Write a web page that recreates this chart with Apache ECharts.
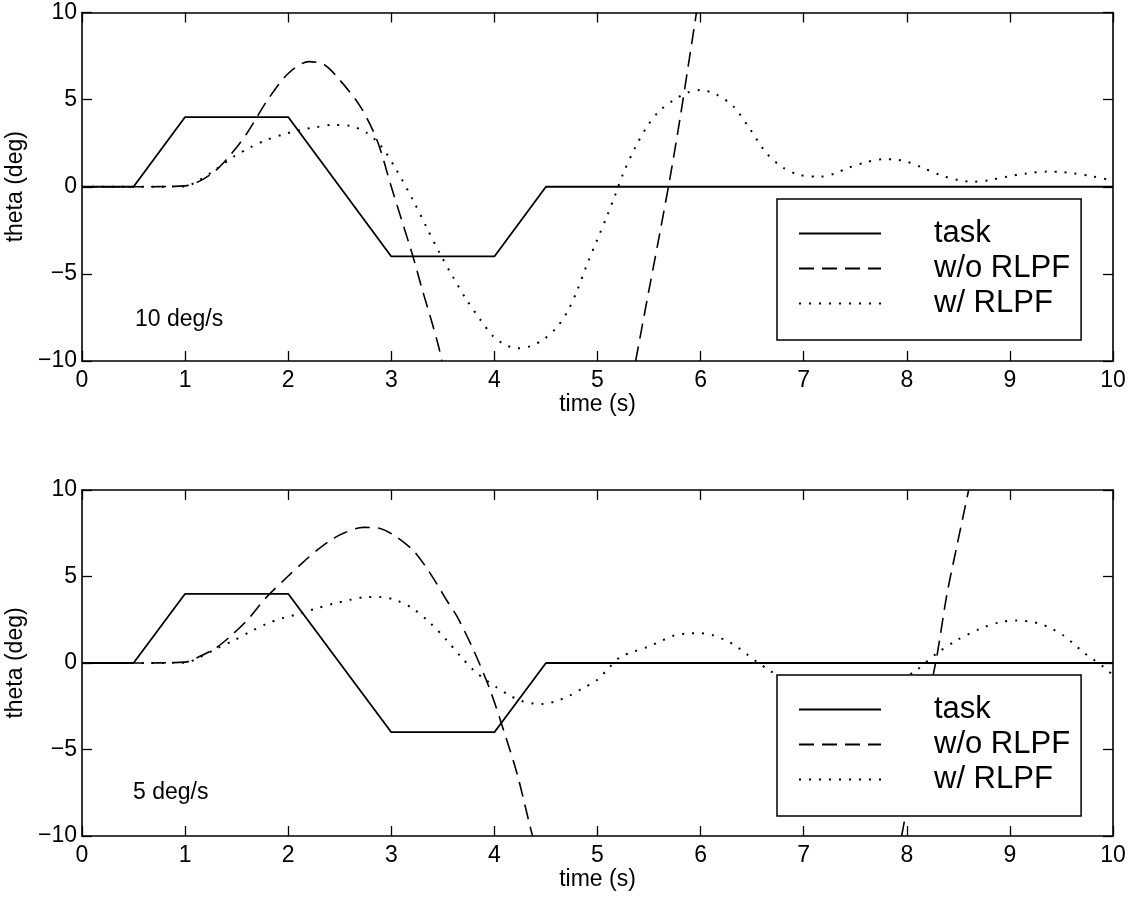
<!DOCTYPE html>
<html>
<head>
<meta charset="utf-8">
<script src="https://cdn.jsdelivr.net/npm/echarts@6/dist/echarts.min.js"></script>
<style>html,body{margin:0;padding:0;background:#fff;}#c{width:1130px;height:900px;}</style>
</head>
<body>
<div id="c"></div>
<script>
// ---- data ----
const xTicks = [0,1,2,3,4,5,6,7,8,9,10];
const yTicks = [-10,-5,0,5,10];
const seriesNames = ['task', 'w/o RLPF', 'w/ RLPF'];
const panelLabels = ['10 deg/s', '5 deg/s'];

const taskT = [0, 0.5, 1, 2, 3, 4, 4.5, 10];
const taskV = [0, 0, 4, 4, -4, -4, 0, 0];

// panel 1 (10 deg/s)
const p1DashT1 = [0, 0.5, 1.0, 1.15, 1.3, 1.45, 1.6, 1.8, 2.0, 2.2, 2.35, 2.5, 2.7, 2.86, 3.0, 3.1, 3.21, 3.3, 3.4, 3.46, 3.49];
const p1DashV1 = [0, 0, 0.05, 0.35, 0.95, 1.9, 3.07, 4.98, 6.5, 7.18, 7.0, 6.13, 4.6, 2.7, 0.0, -1.9, -4.0, -5.9, -7.9, -9.2, -10];
const p1DashT2 = [5.37, 5.5, 5.6, 5.7, 5.8, 5.9, 5.96];
const p1DashV2 = [-10, -5.9, -2.8, 0.4, 3.9, 7.7, 10];
const p1DotT = [0, 0.5, 1.0, 1.14, 1.3, 1.47, 1.63, 1.79, 1.95, 2.11, 2.27, 2.44, 2.6, 2.76, 2.9, 3.05, 3.21, 3.34, 3.47, 3.6, 3.73, 3.86, 3.99, 4.1, 4.22, 4.35, 4.47, 4.6, 4.7, 4.8, 4.89, 5.0, 5.09, 5.17, 5.25, 5.37, 5.48, 5.6, 5.74, 5.87, 6.0, 6.15, 6.32, 6.48, 6.64, 6.8, 6.96, 7.16, 7.3, 7.42, 7.6, 7.77, 7.9, 8.0, 8.15, 8.32, 8.5, 8.65, 8.8, 8.97, 9.15, 9.36, 9.5, 9.61, 9.8, 10];
const p1DotV = [0, 0, 0.02, 0.39, 1.0, 1.73, 2.25, 2.69, 3.0, 3.26, 3.42, 3.55, 3.5, 3.1, 2.35, 0.96, -0.76, -2.3, -3.82, -5.2, -6.49, -7.6, -8.6, -9.05, -9.27, -9.15, -8.79, -8.1, -7.26, -6.0, -4.58, -3.0, -1.72, -0.5, 0.77, 2.3, 3.45, 4.35, 4.98, 5.4, 5.55, 5.3, 4.6, 3.3, 1.92, 1.1, 0.68, 0.58, 0.75, 1.06, 1.4, 1.58, 1.55, 1.44, 1.1, 0.68, 0.38, 0.29, 0.38, 0.58, 0.75, 0.87, 0.85, 0.77, 0.6, 0.35];

// panel 2 (5 deg/s)
const p2DashT1 = [0, 0.5, 1.0, 1.15, 1.31, 1.45, 1.6, 1.79, 1.99, 2.14, 2.28, 2.4, 2.53, 2.73, 2.89, 3.05, 3.21, 3.33, 3.44, 3.54, 3.64, 3.8, 3.96, 4.09, 4.22, 4.34, 4.37];
const p2DashV1 = [0, 0, 0.05, 0.4, 0.92, 1.6, 2.46, 3.81, 4.97, 5.8, 6.52, 7.05, 7.49, 7.84, 7.78, 7.29, 6.52, 5.6, 4.59, 3.6, 2.66, 0.72, -1.59, -3.9, -6.4, -9.3, -10];
const p2DashT2 = [7.95, 8.1, 8.2, 8.29, 8.39, 8.48, 8.6];
const p2DashV2 = [-10, -5.2, -2.3, 0.34, 4.0, 6.6, 10];
const p2DotT = [0, 0.5, 1.0, 1.14, 1.3, 1.47, 1.63, 1.79, 1.95, 2.11, 2.27, 2.44, 2.6, 2.76, 2.89, 3.05, 3.21, 3.38, 3.54, 3.67, 3.8, 3.91, 4.02, 4.14, 4.25, 4.36, 4.47, 4.6, 4.73, 4.86, 4.99, 5.1, 5.22, 5.35, 5.48, 5.61, 5.74, 5.87, 5.99, 6.12, 6.25, 6.35, 6.45, 6.55, 6.67, 6.8, 7.0, 7.2, 7.4, 7.6, 7.8, 7.95, 8.09, 8.29, 8.48, 8.71, 8.9, 9.06, 9.18, 9.29, 9.4, 9.52, 9.62, 9.71, 9.81, 9.91, 10];
const p2DotV = [0, 0, 0.02, 0.33, 0.82, 1.3, 1.8, 2.27, 2.6, 2.85, 3.15, 3.43, 3.65, 3.81, 3.81, 3.62, 3.14, 2.3, 1.3, 0.4, -0.43, -0.95, -1.4, -1.85, -2.17, -2.33, -2.37, -2.2, -1.88, -1.45, -1.01, -0.35, 0.34, 0.65, 0.92, 1.25, 1.59, 1.7, 1.73, 1.6, 1.3, 0.95, 0.5, 0.05, -0.43, -0.95, -1.55, -1.9, -2.0, -1.85, -1.45, -0.95, -0.43, 0.55, 1.3, 1.98, 2.35, 2.46, 2.4, 2.27, 2.0, 1.59, 1.1, 0.63, 0.2, -0.24, -0.7];

// ---- build ----
const zip = (t, v) => t.map((x, i) => [x, v[i]]);
const zip2 = (t1, v1, t2, v2) => zip(t1, v1).concat([[null, null]], zip(t2, v2));

const FONT = '"Liberation Sans", Arial, Helvetica, sans-serif';
const BLACK = '#000';
const FS = 23;
const minus = v => String(v).replace('-', '\u2212');

const grids = [
  {left: 82, right: 17, top: 12.5, height: 348.5, containLabel: false, outerBoundsMode: 'none'},
  {left: 82, right: 17, top: 490, height: 346, containLabel: false, outerBoundsMode: 'none'}
];

const xAxes = [], yAxes = [];
grids.forEach((g, gi) => {
  const tick = {show: true, inside: true, length: 10, lineStyle: {color: BLACK, width: 1.3}};
  const line = {show: true, onZero: false, lineStyle: {color: BLACK, width: 1.6}};
  xAxes.push({
    type: 'value', gridIndex: gi, min: 0, max: 10, interval: 1, position: 'bottom',
    axisLine: line, axisTick: tick, splitLine: {show: false},
    axisLabel: {color: BLACK, fontSize: FS, fontFamily: FONT, margin: 8, formatter: minus},
    name: 'time (s)', nameLocation: 'middle', nameGap: 32,
    nameTextStyle: {color: BLACK, fontSize: FS, fontFamily: FONT}
  });
  xAxes.push({
    type: 'value', gridIndex: gi, min: 0, max: 10, interval: 1, position: 'top',
    axisLine: line, axisTick: tick, splitLine: {show: false}, axisLabel: {show: false}
  });
  yAxes.push({
    type: 'value', gridIndex: gi, min: -10, max: 10, interval: 5, position: 'left',
    axisLine: line, axisTick: tick, splitLine: {show: false},
    axisLabel: {color: BLACK, fontSize: FS, fontFamily: FONT, margin: 5, formatter: minus},
    name: 'theta (deg)', nameLocation: 'middle', nameGap: 44,
    nameTextStyle: {color: BLACK, fontSize: FS, fontFamily: FONT}
  });
  yAxes.push({
    type: 'value', gridIndex: gi, min: -10, max: 10, interval: 5, position: 'right',
    axisLine: line, axisTick: tick, splitLine: {show: false}, axisLabel: {show: false}
  });
});

const styles = [
  {type: 'solid', width: 1.8},
  {type: [15, 8], width: 1.6},
  {type: [2, 8], width: 2}
];
const panelData = [
  [zip(taskT, taskV), zip2(p1DashT1, p1DashV1, p1DashT2, p1DashV2), zip(p1DotT, p1DotV)],
  [zip(taskT, taskV), zip2(p2DashT1, p2DashV1, p2DashT2, p2DashV2), zip(p2DotT, p2DotV)]
];

const series = [];
panelData.forEach((arr, gi) => {
  arr.forEach((d, si) => {
    series.push({
      name: seriesNames[si], type: 'line', xAxisIndex: gi * 2, yAxisIndex: gi * 2,
      data: d, symbol: 'none', showSymbol: false, smooth: si === 0 ? false : 0.3,
      connectNulls: false, clip: true, animation: false,
      lineStyle: Object.assign({color: BLACK}, styles[si]),
      itemStyle: {color: BLACK}
    });
  });
});

const legendTops = [199, 675];
const legends = legendTops.map(t => ({
  left: 777, top: t, orient: 'vertical', data: seriesNames, selectedMode: false,
  padding: [19, 11, 21, 21], itemGap: 4, itemWidth: 82, itemHeight: 14,
  borderColor: BLACK, borderWidth: 1.5, backgroundColor: '#fff',
  itemStyle: {color: 'transparent', opacity: 0, borderWidth: 0},
  lineStyle: {color: BLACK, opacity: 1},
  textStyle: {color: BLACK, fontSize: 31, fontFamily: FONT, padding: [0, 0, 0, 48]}
}));

const titles = [
  {text: panelLabels[0], left: 135, top: 308},
  {text: panelLabels[1], left: 133, top: 781}
].map(o => Object.assign(o, {padding: 0, textStyle: {color: BLACK, fontSize: FS, fontWeight: 'normal', fontFamily: FONT}}));

const chart = echarts.init(document.getElementById('c'), null, {renderer: 'canvas'});
chart.setOption({
  animation: false,
  backgroundColor: '#fff',
  title: titles,
  grid: grids,
  xAxis: xAxes,
  yAxis: yAxes,
  legend: legends,
  series: series
});
</script>
</body>
</html>
